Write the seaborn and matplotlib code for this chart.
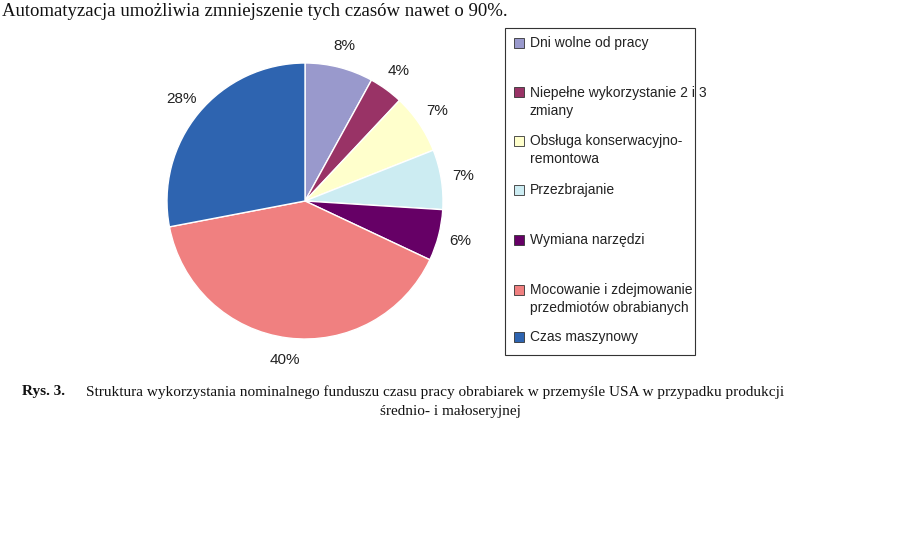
import matplotlib
matplotlib.use("Agg")
import matplotlib.pyplot as plt
import seaborn as sns
from matplotlib.patches import Rectangle

sns.set_theme(style="white")
plt.rcParams['font.family'] = ['Liberation Sans', 'DejaVu Sans']

categories = ["Dni wolne od pracy", "Niepełne wykorzystanie 2 i 3\nzmiany",
              "Obsługa konserwacyjno-\nremontowa", "Przezbrajanie", "Wymiana narzędzi",
              "Mocowanie i zdejmowanie\nprzedmiotów obrabianych", "Czas maszynowy"]
values = [8, 4, 7, 7, 6, 40, 28]
colors = ["#9999cc", "#993366", "#ffffcc", "#ccecf2", "#660066", "#f08080", "#2e64b0"]
legend_y = [43, 102, 150, 190, 240, 299, 337]

W, H = 900, 538
fig = plt.figure(figsize=(9, 5.38), dpi=100)
fig.patch.set_facecolor("white")

cx, cy, r = 305, 201, 138
ax = fig.add_axes([(cx - r) / W, (H - cy - r) / H, 2 * r / W, 2 * r / H])
wedges, texts, autotexts = ax.pie(values, colors=colors, startangle=90, counterclock=False,
                                  autopct="%d%%", pctdistance=1.16,
                                  wedgeprops=dict(edgecolor="white", linewidth=1))
for t in autotexts:
    t.set_fontsize(11)
    t.set_color("#222222")
    t.set_clip_on(False)
ax.set_xlim(-1, 1); ax.set_ylim(-1, 1)
ax.set_aspect("equal")
ax.axis("off")

fig.patches.append(Rectangle((505 / W, (H - 355) / H), 190 / W, 327 / H, transform=fig.transFigure,
                             fill=False, edgecolor="#333333", linewidth=0.8))
for lab, col, y in zip(categories, colors, legend_y):
    nlines = lab.count("\n") + 1
    ytop = y - (nlines - 1) * 9.5
    fig.patches.append(Rectangle((514 / W, (H - ytop - 5) / H), 10 / W, 10 / H,
                                 transform=fig.transFigure, facecolor=col,
                                 edgecolor="#333333", linewidth=0.6))
    fig.text(530 / W, (H - y) / H, lab, fontsize=10, va="center", ha="left",
             color="#222222", linespacing=1.4)

fig.text(2 / W, (H - 12) / H, "Automatyzacja umożliwia zmniejszenie tych czasów nawet o 90%.",
         family=["Liberation Serif"], fontsize=13.5, va="center", ha="left", color="#111111")
fig.text(22 / W, (H - 392) / H, "Rys. 3.", family=["Liberation Serif"], fontweight="bold",
         fontsize=11, va="center", ha="left", color="#111111")
fig.text(86 / W, (H - 392) / H,
         "Struktura wykorzystania nominalnego funduszu czasu pracy obrabiarek w przemyśle USA w przypadku produkcji",
         family=["Liberation Serif"], fontsize=11, va="center", ha="left", color="#111111")
fig.text(450 / W, (H - 411) / H, "średnio- i małoseryjnej",
         family=["Liberation Serif"], fontsize=11, va="center", ha="center", color="#111111")

fig.savefig("out.png", dpi=100, facecolor="white")
